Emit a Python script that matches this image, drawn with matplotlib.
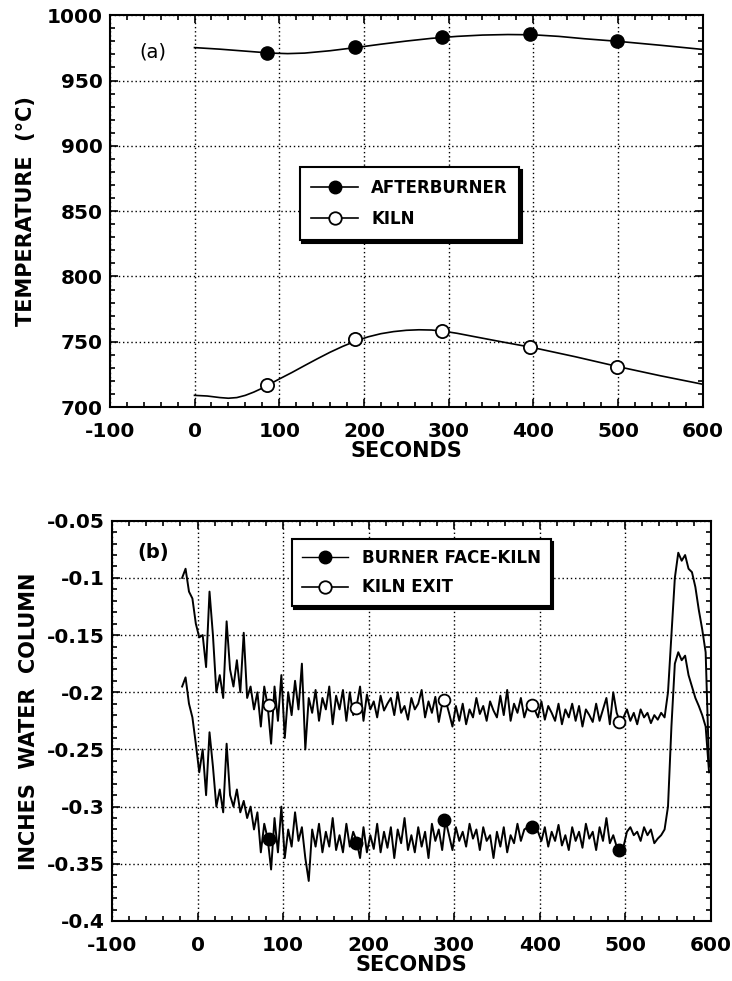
import numpy as np
import matplotlib
matplotlib.use("Agg")
import matplotlib.pyplot as plt
from matplotlib.lines import Line2D
from matplotlib.ticker import MultipleLocator

plt.rcParams['font.family'] = ['DejaVu Sans']

# ---- panel (a): temperatures ----
afterburner_t = [0, 30, 60, 90, 110, 130, 160, 190, 220, 250, 280, 310, 340,
                 370, 400, 430, 460, 500, 550, 600]
afterburner_curve = [975.2, 974, 972.5, 971, 970.6, 971, 972.8, 975.2, 977.8,
                     980.2, 982.3, 983.8, 984.8, 985.2, 985, 983.8, 982, 980,
                     977, 973.8]
kiln_t = [0, 15, 30, 40, 50, 60, 70, 80, 90, 100, 115, 130, 145, 160, 175, 190,
          205, 220, 235, 250, 265, 280, 295, 310, 330, 360, 400, 450, 500, 550, 600]
kiln_curve = [709, 708.5, 707.3, 706.8, 707.3, 709, 711.5, 714.5, 718, 721.5,
              726.5, 731.8, 737, 742, 746.5, 750.5, 753.8, 756.2, 757.8, 758.8,
              759.2, 759, 758, 756.5, 754, 750.3, 745.5, 738.5, 731, 724, 717.5]
marker_t_a = [85, 189, 292, 396, 499]
afterburner_pts = [971, 975.5, 983, 985.4, 980.5]
kiln_pts = [717, 752.5, 758, 746, 731]

# ---- panel (b): pressures (thousandths of inch water column) ----
t_start, t_step = -18, 4
kiln_exit = [
    -100, -92, -112, -118, -140, -152, -150, -178, -112, -150,
    -200, -185, -205, -138, -180, -195, -172, -200, -148, -205,
    -195, -215, -200, -230, -195, -212, -245, -195, -225, -185,
    -240, -200, -220, -190, -215, -175, -250, -205, -218, -198,
    -225, -205, -215, -195, -228, -203, -215, -198, -225, -200,
    -220, -212, -195, -225, -202, -215, -208, -222, -203, -216,
    -210, -205, -220, -200, -218, -212, -224, -205, -215, -210,
    -198, -222, -208, -218, -204, -226, -210, -207, -218, -230,
    -212, -225, -210, -228, -215, -222, -205, -219, -212, -225,
    -208, -216, -222, -203, -220, -198, -225, -210, -218, -205,
    -222, -212, -210, -215, -222, -208, -224, -212, -218, -225,
    -210, -228, -215, -222, -210, -225, -212, -230, -215, -220,
    -226, -210, -225, -215, -205, -228, -200, -218, -226, -222,
    -215, -225, -218, -228, -215, -222, -218, -227, -220, -224,
    -218, -222, -200, -150, -100, -78, -85, -80, -92, -95,
    -108, -128, -145, -165, -265]
burner_face = [
    -195, -187, -210, -222, -245, -270, -250, -290, -235, -265,
    -300, -285, -305, -245, -290, -300, -285, -305, -295, -310,
    -300, -320, -305, -340, -315, -328, -355, -310, -340, -300,
    -345, -320, -335, -305, -330, -318, -345, -365, -320, -335,
    -315, -340, -322, -335, -310, -338, -325, -340, -315, -335,
    -322, -330, -345, -318, -340, -325, -337, -315, -340, -322,
    -336, -318, -345, -320, -332, -310, -338, -325, -340, -318,
    -335, -322, -345, -315, -330, -320, -338, -312, -325, -338,
    -318, -330, -322, -335, -315, -328, -320, -338, -318, -330,
    -325, -345, -322, -335, -318, -340, -325, -332, -315, -330,
    -320, -318, -315, -318, -322, -330, -318, -335, -322, -330,
    -316, -334, -325, -338, -318, -330, -322, -336, -315, -328,
    -322, -338, -318, -330, -310, -332, -325, -335, -338, -335,
    -322, -318, -325, -322, -330, -318, -325, -320, -332, -328,
    -325, -320, -300, -230, -175, -165, -172, -168, -185, -195,
    -205, -212, -220, -230, -270]
marker_t_b = [83, 185, 288, 391, 493]
kiln_exit_pts = [-0.211, -0.214, -0.207, -0.211, -0.226]
burner_face_pts = [-0.328, -0.332, -0.312, -0.318, -0.338]

xticks = [-100, 0, 100, 200, 300, 400, 500, 600]
xtick_labels = ['-100', '0', '100', '200', '300', '400', '500', '600']
yticks_a = [700, 750, 800, 850, 900, 950, 1000]
yticks_b = [-0.4, -0.35, -0.3, -0.25, -0.2, -0.15, -0.1, -0.05]
ytick_labels_b = ['-0.4', '-0.35', '-0.3', '-0.25', '-0.2', '-0.15', '-0.1', '-0.05']

t_b = t_start + t_step * np.arange(len(kiln_exit))
kiln_exit_in = np.array(kiln_exit) / 1000.0
burner_face_in = np.array(burner_face) / 1000.0

fig = plt.figure(figsize=(7.32, 9.81), dpi=100)
ax1 = fig.add_axes([0.150, 0.585, 0.810, 0.3995])
ax2 = fig.add_axes([0.153, 0.0612, 0.818, 0.408])


def style_axes(ax, xminor, yminor):
    ax.xaxis.set_minor_locator(MultipleLocator(xminor))
    ax.yaxis.set_minor_locator(MultipleLocator(yminor))
    ax.tick_params(which='both', direction='in', top=True, right=True,
                   width=1.2, labelsize=14.5)
    ax.tick_params(axis='x', which='major', pad=11)
    ax.tick_params(axis='y', which='major', pad=5)
    ax.tick_params(which='major', length=6)
    ax.tick_params(which='minor', length=3.5)
    for lab in ax.get_xticklabels() + ax.get_yticklabels():
        lab.set_fontweight('bold')
    for s in ax.spines.values():
        s.set_linewidth(1.5)
    ax.grid(True, which='major', color='black', linestyle=(0, (1, 2)), linewidth=1.0)


# panel (a)
ax1.plot(afterburner_t, afterburner_curve, color='black', lw=1.2)
ax1.plot(kiln_t, kiln_curve, color='black', lw=1.2)
ax1.plot(marker_t_a, afterburner_pts, 'o', color='black', ms=9.5, ls='none')
ax1.plot(marker_t_a, kiln_pts, 'o', mfc='white', mec='black', mew=1.3, ms=9.5, ls='none')
ax1.set_xlim(-100, 600)
ax1.set_ylim(700, 1000)
ax1.set_xticks(xticks, xtick_labels)
ax1.set_yticks(yticks_a, [str(v) for v in yticks_a])
style_axes(ax1, 20, 10)
ax1.set_xlabel('SECONDS', fontsize=15, fontweight='bold', labelpad=0)
ax1.set_ylabel('TEMPERATURE  (°C)', fontsize=15, fontweight='bold', labelpad=8)
ax1.text(0.05, 0.905, '(a)', transform=ax1.transAxes, fontsize=14, va='center')

h_a = [Line2D([], [], color='black', lw=1.2, marker='o', ms=9, mfc='black', mec='black'),
       Line2D([], [], color='black', lw=1.2, marker='o', ms=9, mfc='white', mec='black', mew=1.3)]
leg1 = ax1.legend(h_a, ['AFTERBURNER', 'KILN'], loc='upper left',
                  bbox_to_anchor=(0.32, 0.612), borderaxespad=0, fancybox=False,
                  framealpha=1, edgecolor='black', handlelength=2.8, borderpad=0.7,
                  labelspacing=0.8, prop={'weight': 'bold', 'size': 12},
                  shadow={'color': 'black', 'alpha': 1})
leg1.get_frame().set_linewidth(1.5)

# panel (b)
ax2.plot(t_b, kiln_exit_in, color='black', lw=1.4)
ax2.plot(t_b, burner_face_in, color='black', lw=1.4)
ax2.plot(marker_t_b, kiln_exit_pts, 'o', mfc='white', mec='black', mew=1.3, ms=8.5, ls='none')
ax2.plot(marker_t_b, burner_face_pts, 'o', color='black', ms=9, ls='none')
ax2.set_xlim(-100, 600)
ax2.set_ylim(-0.4, -0.05)
ax2.set_xticks(xticks, xtick_labels)
ax2.set_yticks(yticks_b, ytick_labels_b)
style_axes(ax2, 20, 0.01)
ax2.set_xlabel('SECONDS', fontsize=15, fontweight='bold', labelpad=0)
ax2.set_ylabel('INCHES  WATER  COLUMN', fontsize=15, fontweight='bold', labelpad=6)
ax2.text(0.042, 0.92, '(b)', transform=ax2.transAxes, fontsize=14,
         fontweight='bold', va='center')

h_b = [Line2D([], [], color='black', lw=1.0, marker='o', ms=9, mfc='black', mec='black'),
       Line2D([], [], color='black', lw=1.2, marker='o', ms=9, mfc='white', mec='black', mew=1.3)]
leg2 = ax2.legend(h_b, ['BURNER FACE-KILN', 'KILN EXIT'], loc='upper left',
                  bbox_to_anchor=(0.30, 0.955), borderaxespad=0, fancybox=False,
                  framealpha=1, edgecolor='black', handlelength=2.8, borderpad=0.6,
                  labelspacing=0.7, prop={'weight': 'bold', 'size': 12},
                  shadow={'color': 'black', 'alpha': 1})
leg2.get_frame().set_linewidth(1.5)

fig.savefig('out.png', dpi=100)
